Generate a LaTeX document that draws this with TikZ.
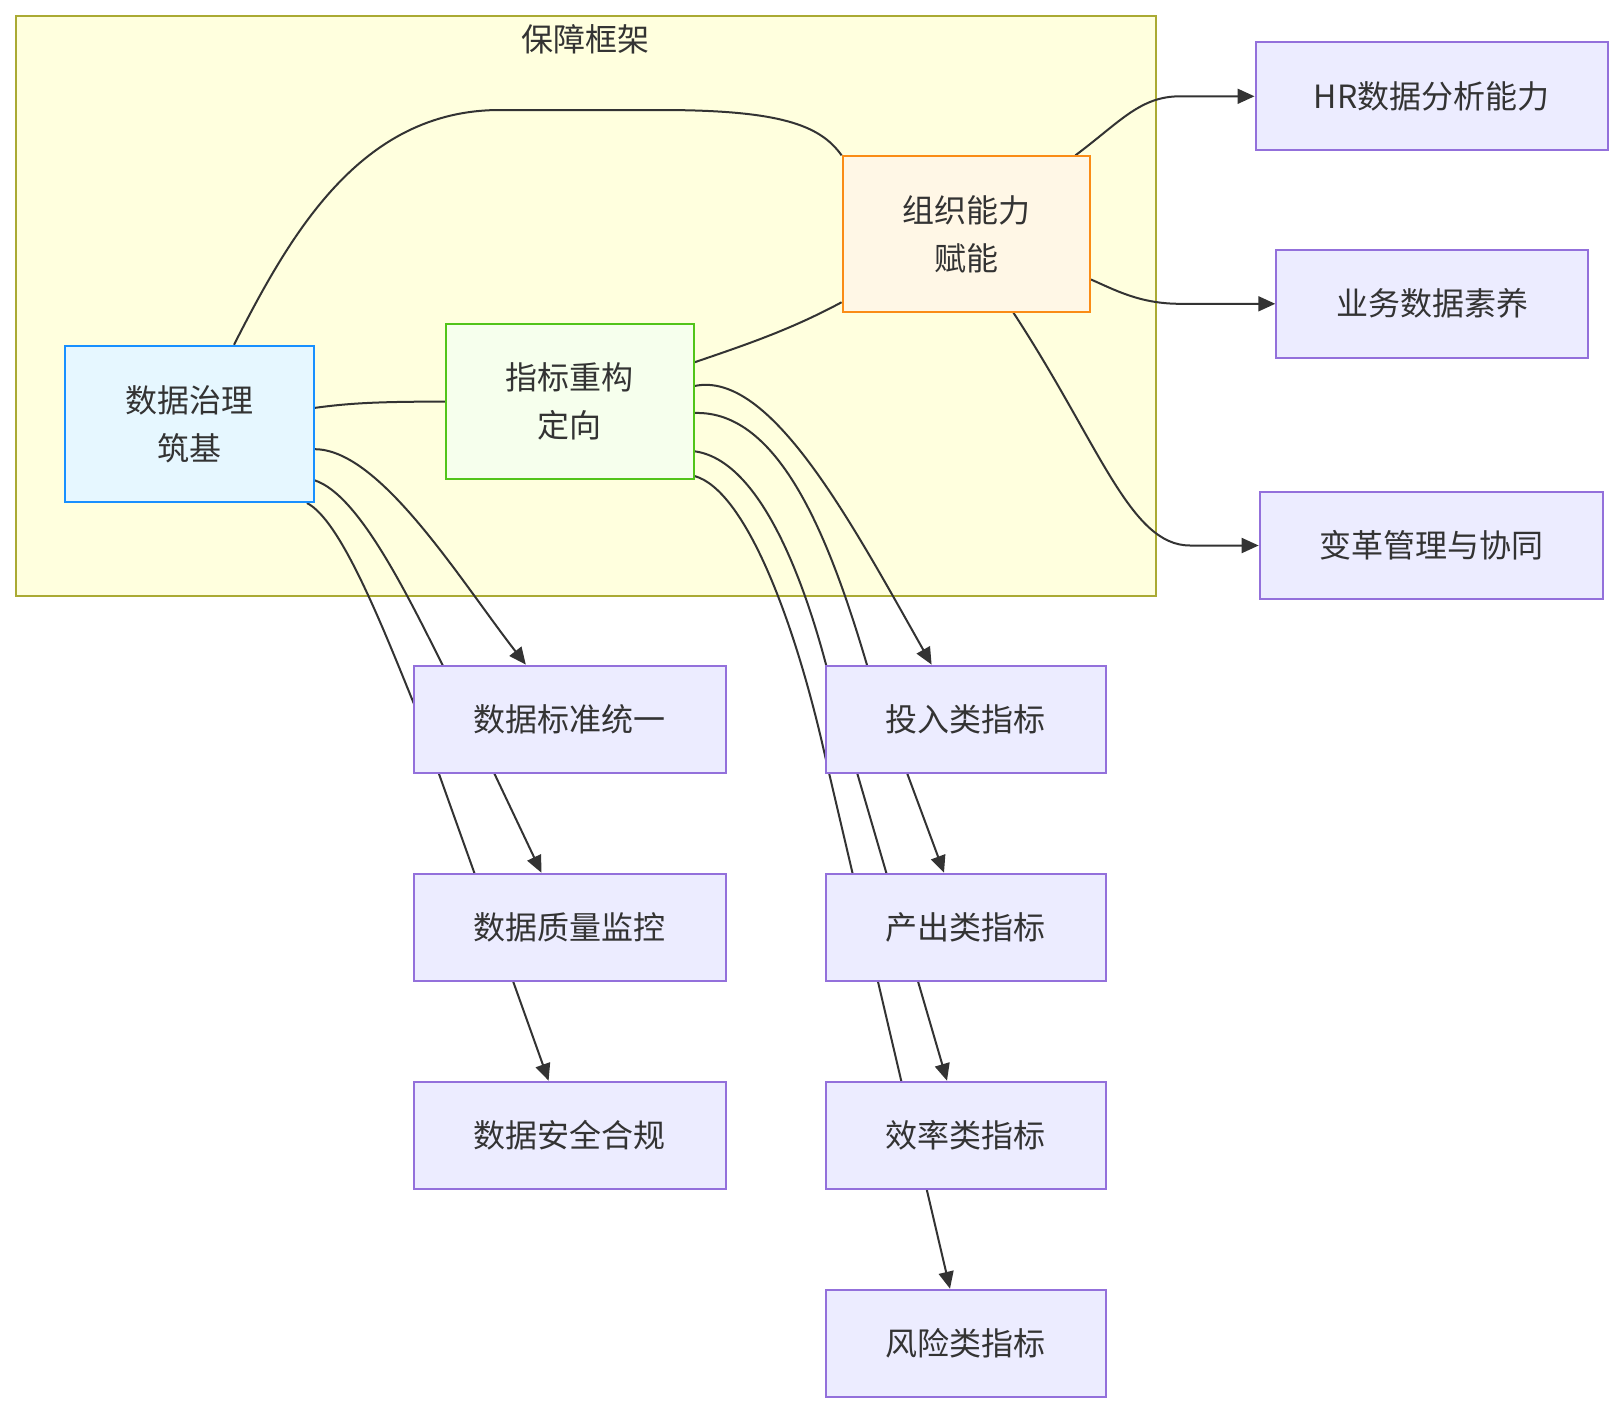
\documentclass[tikz,border=0pt]{standalone}
\usepackage{fontspec}
\setmainfont{Noto Sans CJK SC}
\usetikzlibrary{arrows.meta,calc}
\definecolor{ink}{HTML}{333333}
\definecolor{clfill}{HTML}{FFFFDE}
\definecolor{cldraw}{HTML}{AAAA33}
\definecolor{pfill}{HTML}{ECECFF}
\definecolor{pdraw}{HTML}{9370DB}
\definecolor{bfill}{HTML}{E6F7FF}
\definecolor{bdraw}{HTML}{1890FF}
\definecolor{gfill}{HTML}{F6FFED}
\definecolor{gdraw}{HTML}{52C41A}
\definecolor{ofill}{HTML}{FFF7E6}
\definecolor{odraw}{HTML}{FA8C16}
\pgfdeclarelayer{bg}
\pgfdeclarelayer{edges}
\pgfsetlayers{bg,edges,main}
\begin{document}
\begin{tikzpicture}[x=1pt,y=-1pt,
  basebox/.style={rectangle, inner sep=0pt, line width=2pt, text=ink,
    font=\fontsize{32}{48}\selectfont, align=center},
  pbox/.style={basebox, draw=pdraw, fill=pfill},
  bbox/.style={basebox, draw=bdraw, fill=bfill},
  gbox/.style={basebox, draw=gdraw, fill=gfill},
  obox/.style={basebox, draw=odraw, fill=ofill},
  cluster/.style={rectangle, inner sep=0pt, line width=2pt, draw=cldraw, fill=clfill},
  link/.style={draw=ink, line width=2pt},
  arrowlink/.style={link, -{Triangle[length=17pt,width=15pt]}}]
\useasboundingbox (0,0) rectangle (1623,1414);

\begin{pgfonlayer}{bg}
\node[cluster, minimum width=1140.7pt, minimum height=580.7pt] (frame) at (585.85,305.85) {};
\node[text=ink, font=\fontsize{32}{48}\selectfont, inner sep=0pt] (title) at (585.9,39.3) {保障框架};
\end{pgfonlayer}

% nodes inside the frame
\node[bbox, minimum width=248.4pt, minimum height=156.3pt] (A) at (189.4,423.9) {数据治理\\筑基};
\node[gbox, minimum width=247.4pt, minimum height=155.3pt] (B) at (569.8,401.6) {指标重构\\定向};
\node[obox, minimum width=247.4pt, minimum height=155.3pt] (C) at (966.3,234) {组织能力\\赋能};

% right column
\node[pbox, minimum width=352pt, minimum height=107.7pt] (hr) at (1431.5,96.3) {HR数据分析能力};
\node[pbox, minimum width=311.5pt, minimum height=108.6pt] (biz) at (1432,303.8) {业务数据素养};
\node[pbox, minimum width=343.7pt, minimum height=107.6pt] (chg) at (1431.5,545.5) {变革管理与协同};

% left lower column
\node[pbox, minimum width=311.6pt, minimum height=107.6pt] (std) at (569.8,719.4) {数据标准统一};
\node[pbox, minimum width=311.6pt, minimum height=107.6pt] (qual) at (569.8,927.5) {数据质量监控};
\node[pbox, minimum width=311.6pt, minimum height=107.6pt] (safe) at (569.8,1135.5) {数据安全合规};

% right lower column
\node[pbox, minimum width=279.5pt, minimum height=107.6pt] (inp) at (965.8,719.4) {投入类指标};
\node[pbox, minimum width=279.5pt, minimum height=107.6pt] (outp) at (965.8,927.5) {产出类指标};
\node[pbox, minimum width=279.5pt, minimum height=107.6pt] (eff) at (965.8,1135.5) {效率类指标};
\node[pbox, minimum width=279.5pt, minimum height=107.6pt] (risk) at (965.8,1343.5) {风险类指标};

\begin{pgfonlayer}{edges}
% links inside the frame
\draw[link] ($(A.north)+(44.6,0)$) .. controls (290,235) and (360,110) .. (500,110)
   -- (660,110) .. controls (780,110) and (820,125) .. (C.north west);
\draw[link] ($(A.east)+(0,-16)$) .. controls (350,403) and (380,401.6) .. (B.west);
\draw[link] ($(B.east)+(0,-39.3)$) .. controls (745,345) and (790,330) .. ($(C.south west)+(0,-10.4)$);

% C to right column
\draw[arrowlink] ($(C.north east)+(-15.6,0)$) .. controls (1120,122) and (1140,96.3) .. (1180,96.3) -- (hr.west);
\draw[arrowlink] ($(C.east)+(0,45.5)$) .. controls (1115,290) and (1140,303.8) .. (1180,303.8) -- (biz.west);
\draw[arrowlink] ($(C.south)+(47.1,0)$) .. controls (1100,445) and (1130,545.5) .. (1190,545.5) -- (chg.west);

% A to data nodes
\draw[arrowlink] ($(A.east)+(0,25.3)$) .. controls (380,449) and (460,580) .. ($(std.north)+(-44,0)$);
\draw[arrowlink] ($(A.east)+(0,56.4)$) .. controls (360,495) and (410,600) .. (450,680) -- ($(qual.north)+(-28.4,0)$);
\draw[arrowlink] ($(A.south east)+(-7.6,0)$) .. controls (340,520) and (380,620) .. (414,704) -- ($(safe.north)+(-21.2,0)$);

% B to indicator nodes
\draw[arrowlink] ($(B.east)+(0,-15.6)$) .. controls (770,370) and (850,520) .. ($(inp.north)+(-34.2,0)$);
\draw[arrowlink] ($(B.east)+(0,11.4)$) .. controls (780,410) and (830,540) .. (867,665) -- ($(outp.north)+(-21.8,0)$);
\draw[arrowlink] ($(B.east)+(0,49.7)$) .. controls (760,460) and (805,580) .. (830,680) -- ($(eff.north)+(-18.8,0)$);
\draw[arrowlink] ($(B.east)+(0,74.4)$) .. controls (745,490) and (795,620) .. (826,760) -- ($(risk.north)+(-15.8,0)$);
\end{pgfonlayer}
\end{tikzpicture}
\end{document}
